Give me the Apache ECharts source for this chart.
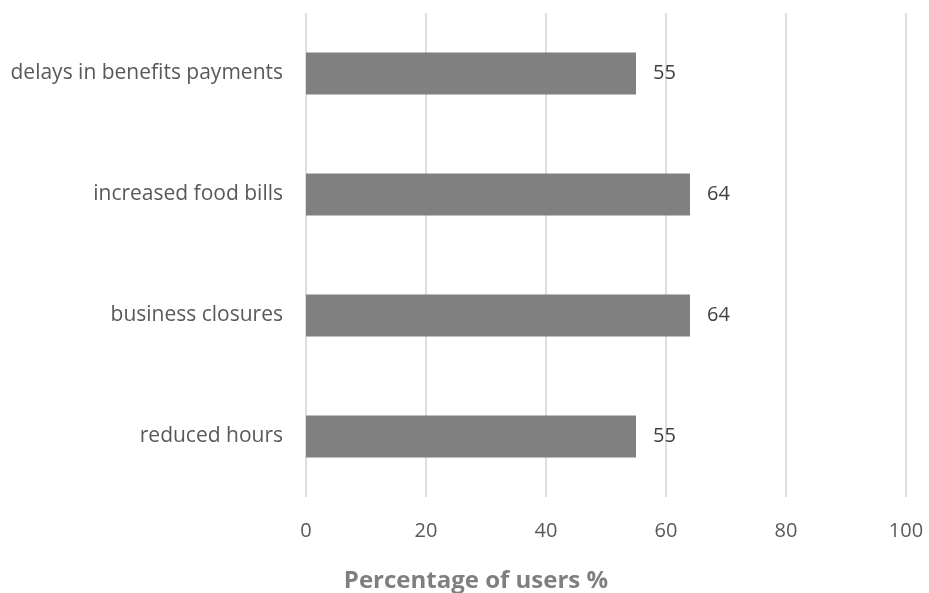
<!DOCTYPE html>
<html>
<head>
<meta charset="utf-8">
<script src="https://cdn.jsdelivr.net/npm/echarts@6/dist/echarts.min.js"></script>
<style>html,body{margin:0;padding:0;background:#fff;}#c{width:929px;height:593px;}</style>
</head>
<body>
<div id="c"></div>
<script>
var categories = ['reduced hours', 'business closures', 'increased food bills', 'delays in benefits payments'];
var values = [55, 64, 64, 55];
var xTicks = [0, 20, 40, 60, 80, 100];
var axisTitle = 'Percentage of users %';

var chart = echarts.init(document.getElementById('c'));
chart.setOption({
  animation: false,
  backgroundColor: '#ffffff',
  textStyle: { fontFamily: 'Open Sans' },
  grid: { left: 306, right: 23, top: 13, bottom: 96, containLabel: false },
  title: {
    text: axisTitle,
    left: 471,
    top: 564,
    textAlign: 'center',
    textStyle: { fontFamily: 'Open Sans', fontWeight: 'bold', fontSize: 24, color: '#7f7f7f' }
  },
  xAxis: {
    type: 'value',
    min: xTicks[0],
    max: xTicks[xTicks.length - 1],
    interval: 20,
    axisLine: { show: false },
    axisTick: { show: false },
    splitLine: { show: true, lineStyle: { color: '#d4d4d4', width: 1.5 } },
    axisLabel: { color: '#595959', fontSize: 20, margin: 24, fontFamily: 'Open Sans' }
  },
  yAxis: {
    type: 'category',
    data: categories,
    axisLine: { show: false },
    axisTick: { show: false },
    splitLine: { show: false },
    axisLabel: { color: '#595959', fontSize: 21, margin: 23, fontFamily: 'Open Sans' }
  },
  series: [{
    type: 'bar',
    data: values,
    barWidth: '34.7%',
    itemStyle: { color: '#808080' },
    label: { show: true, position: 'right', distance: 17, color: '#404040', fontSize: 20, fontFamily: 'Open Sans' }
  }]
});
</script>
</body>
</html>
